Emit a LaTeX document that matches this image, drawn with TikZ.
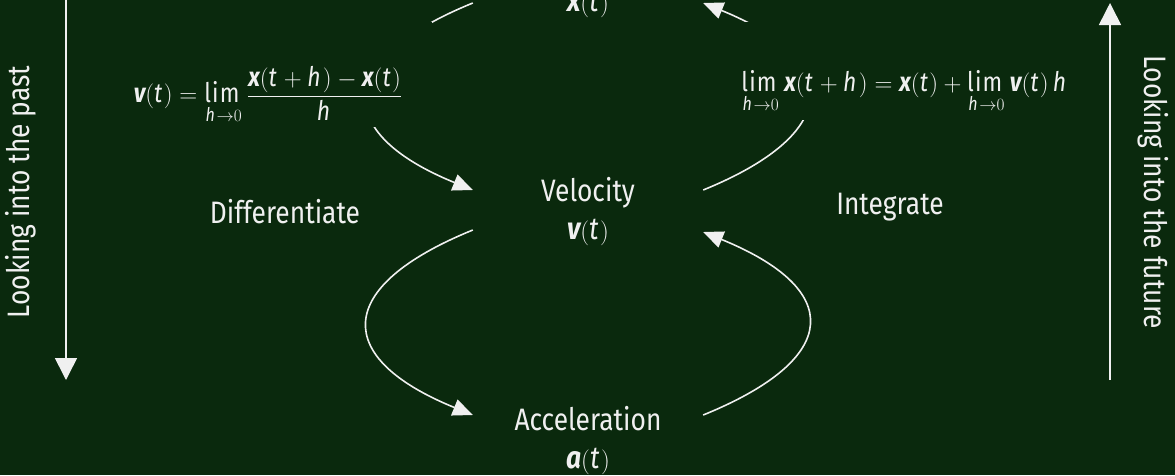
\documentclass[tikz,border=0pt]{standalone}
\usepackage{amsmath}
\usepackage{fontspec}
\setmainfont{Fira Sans}[FakeStretch=0.85]
\usetikzlibrary{arrows.meta,calc}
\definecolor{bg}{RGB}{10,41,13}
\definecolor{fg}{RGB}{240,240,240}
\newcommand{\bfx}{\text{\bfseries\itshape x}}
\newcommand{\bfv}{\text{\bfseries\itshape v}}
\newcommand{\bfa}{\text{\bfseries\itshape a}}
\newcommand{\mt}{\mathit{t}}
\newcommand{\mh}{\mathit{h}}
\newcommand{\limh}{\operatorname*{lim}_{\mh\to 0}}
\tikzset{
  lbl/.style={text=fg, font=\fontsize{31}{38}\selectfont, align=center},
  state/.style={lbl, minimum width=230pt, inner sep=0pt},
  frm/.style={text=fg, font=\fontsize{27}{34}\selectfont},
  arr/.style={draw=fg, line width=1.6pt, -{Triangle[length=20pt,width=17pt]}},
  varr/.style={draw=fg, line width=1.6pt, -{Triangle[length=22pt,width=22pt]}}
}
\begin{document}
\begin{tikzpicture}[x=1pt,y=-1pt]
\fill[bg] (0,0) rectangle (1175,475);
\useasboundingbox (0,0) rectangle (1175,475);

\node[state] (pos) at (588,-16) {Position\\ $\bfx(\mt)$};
\node[state] (vel) at (588,212) {Velocity\\ $\bfv(\mt)$};
\node[state] (acc) at (588,440) {Acceleration\\ $\bfa(\mt)$};

% upper left: position -> velocity
\draw[arr] ([yshift=-19pt]pos.west)
  .. controls ($([yshift=-19pt]pos.west)+(-140,57)$) and ($([yshift=22pt]vel.west)+(-140,-57)$) ..
  ([yshift=22pt]vel.west);
% upper right: velocity -> position
\draw[arr] ([yshift=22pt]vel.east)
  .. controls ($([yshift=22pt]vel.east)+(140,-57)$) and ($([yshift=-19pt]pos.east)+(140,57)$) ..
  ([yshift=-19pt]pos.east);
% lower left: velocity -> acceleration
\draw[arr] ([yshift=-18pt]vel.west)
  .. controls ($([yshift=-18pt]vel.west)+(-140,57)$) and ($([yshift=25pt]acc.west)+(-140,-57)$) ..
  ([yshift=25pt]acc.west);
% lower right: acceleration -> velocity
\draw[arr] ([yshift=25pt]acc.east)
  .. controls ($([yshift=25pt]acc.east)+(140,-57)$) and ($([yshift=-20pt]vel.east)+(140,57)$) ..
  ([yshift=-20pt]vel.east);

\fill[bg] (110,22) rectangle (432,127);
\fill[bg] (738,22) rectangle (1085,120);

\node[frm] (dform) at (268,95) {$\displaystyle \bfv(\mt) = \limh\frac{\bfx(\mt+\mh)-\bfx(\mt)}{\mh}$};
\node[frm] (iform) at (905,92) {$\displaystyle \limh\bfx(\mt+\mh) = \bfx(\mt) + \limh\bfv(\mt)\,\mh$};

\node[lbl] (diff) at (285,212) {Differentiate};
\node[lbl] (integ) at (890,207) {Integrate};

\coordinate (pastTop) at (66,-5);
\coordinate (pastBot) at (66,380);
\draw[varr] (pastTop) -- (pastBot);
\node[lbl, rotate=90] (past) at (21,192) {Looking into the past};

\coordinate (futBot) at (1110,380);
\coordinate (futTop) at (1110,3);
\draw[varr] (futBot) -- (futTop);
\node[lbl, rotate=-90] (future) at (1153,192) {Looking into the future};
\end{tikzpicture}
\end{document}
